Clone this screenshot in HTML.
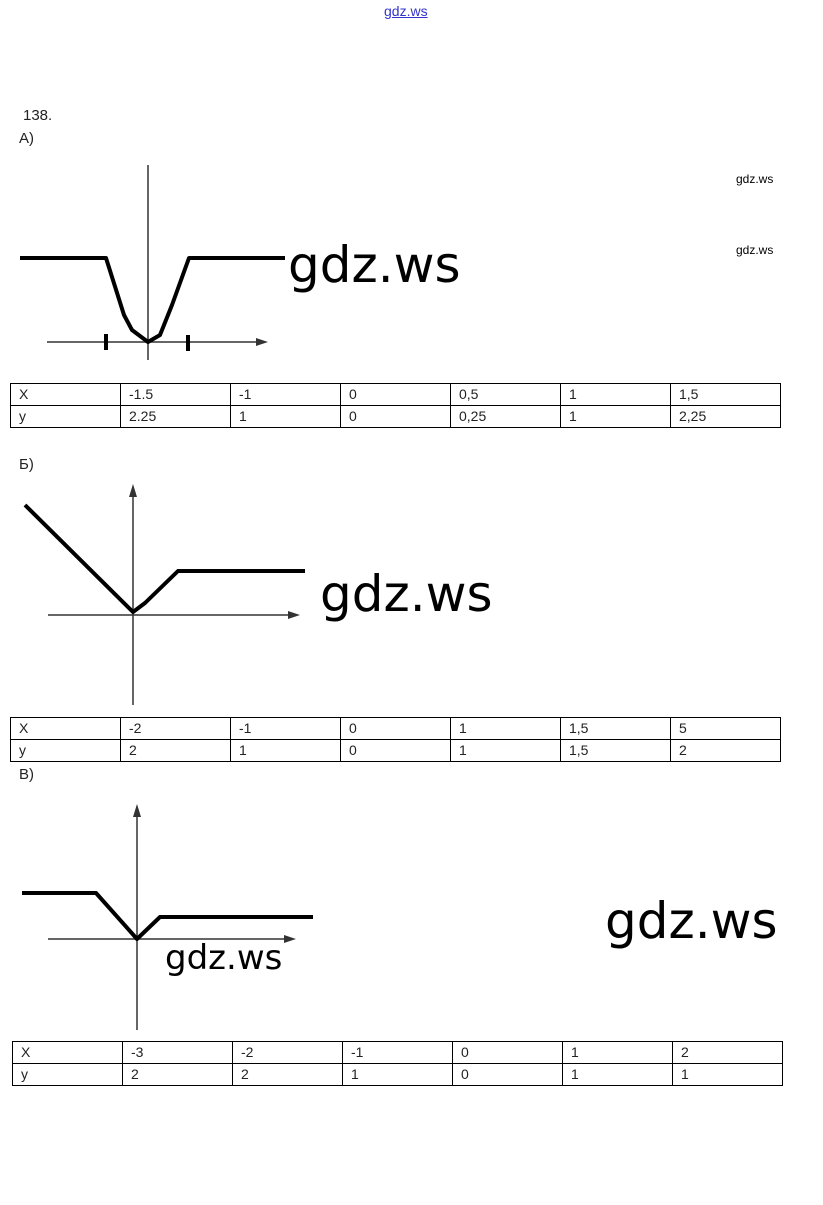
<!DOCTYPE html>
<html><head><meta charset="utf-8"><style>
body{margin:0;width:823px;height:1205px;background:#fff;position:relative;font-family:"Liberation Sans",sans-serif;overflow:hidden}
.t{position:absolute;color:#222}
table{position:absolute;border-collapse:collapse;font-size:14px;color:#222}
td{border:1px solid #000;height:21px;padding:0 0 0 8px;width:101px;line-height:21px}
.big{position:absolute;font-family:"DejaVu Sans","Liberation Sans",sans-serif;color:#000;font-weight:500}
</style></head><body>
<div class="t" style="left:384px;top:3px;font-size:14px;color:#33c;text-decoration:underline">gdz.ws</div>
<div class="t" style="left:23px;top:107px;font-size:15px">138.</div>
<div class="t" style="left:19px;top:130px;font-size:15px">А)</div>
<div class="t" style="left:19px;top:456px;font-size:15px">Б)</div>
<div class="t" style="left:19px;top:766px;font-size:15px">В)</div>
<div class="t" style="left:736px;top:172px;font-size:12px;color:#000">gdz.ws</div>
<div class="t" style="left:736px;top:243px;font-size:12px;color:#000">gdz.ws</div>
<div class="big" style="left:288px;top:236px;font-size:50px">gdz.ws</div>
<div class="big" style="left:320px;top:565px;font-size:50px">gdz.ws</div>
<div class="big" style="left:605px;top:892px;font-size:50px">gdz.ws</div>
<div class="big" style="left:165px;top:938px;font-size:34px">gdz.ws</div>
<svg width="823" height="1205" style="position:absolute;left:0;top:0">
<g stroke="#333" stroke-width="1.5" fill="none">
<line x1="47" y1="342" x2="262" y2="342"/><line x1="148" y1="165" x2="148" y2="360"/>
<line x1="48" y1="615" x2="294" y2="615"/><line x1="133" y1="492" x2="133" y2="705"/>
<line x1="48" y1="939" x2="290" y2="939"/><line x1="137" y1="812" x2="137" y2="1030"/>
</g>
<g fill="#333">
<polygon points="268,342 256,338 256,346"/><polygon points="300,615 288,611 288,619"/><polygon points="296,939 284,935 284,943"/>
<polygon points="133,484 129,497 137,497"/><polygon points="137,804 133,817 141,817"/>
</g>
<g stroke="#000" stroke-width="4" fill="none" stroke-linejoin="round">
<polyline points="20,258 106,258 124,315 132,330 148,342 160,335 172,305 189,258 285,258"/>
<line x1="106" y1="334" x2="106" y2="350"/><line x1="188" y1="335" x2="188" y2="351"/>
<polyline points="25,505 133,612 145,603 178,571 305,571"/>
<polyline points="22,893 96,893 137,939 160,917 313,917"/>
</g>
</svg>
<table style="left:10px;top:383px"><tr><td>X</td><td>-1.5</td><td>-1</td><td>0</td><td>0,5</td><td>1</td><td>1,5</td></tr><tr><td>y</td><td>2.25</td><td>1</td><td>0</td><td>0,25</td><td>1</td><td>2,25</td></tr></table>
<table style="left:10px;top:717px"><tr><td>X</td><td>-2</td><td>-1</td><td>0</td><td>1</td><td>1,5</td><td>5</td></tr><tr><td>y</td><td>2</td><td>1</td><td>0</td><td>1</td><td>1,5</td><td>2</td></tr></table>
<table style="left:12px;top:1041px"><tr><td>X</td><td>-3</td><td>-2</td><td>-1</td><td>0</td><td>1</td><td>2</td></tr><tr><td>y</td><td>2</td><td>2</td><td>1</td><td>0</td><td>1</td><td>1</td></tr></table>
</body></html>
